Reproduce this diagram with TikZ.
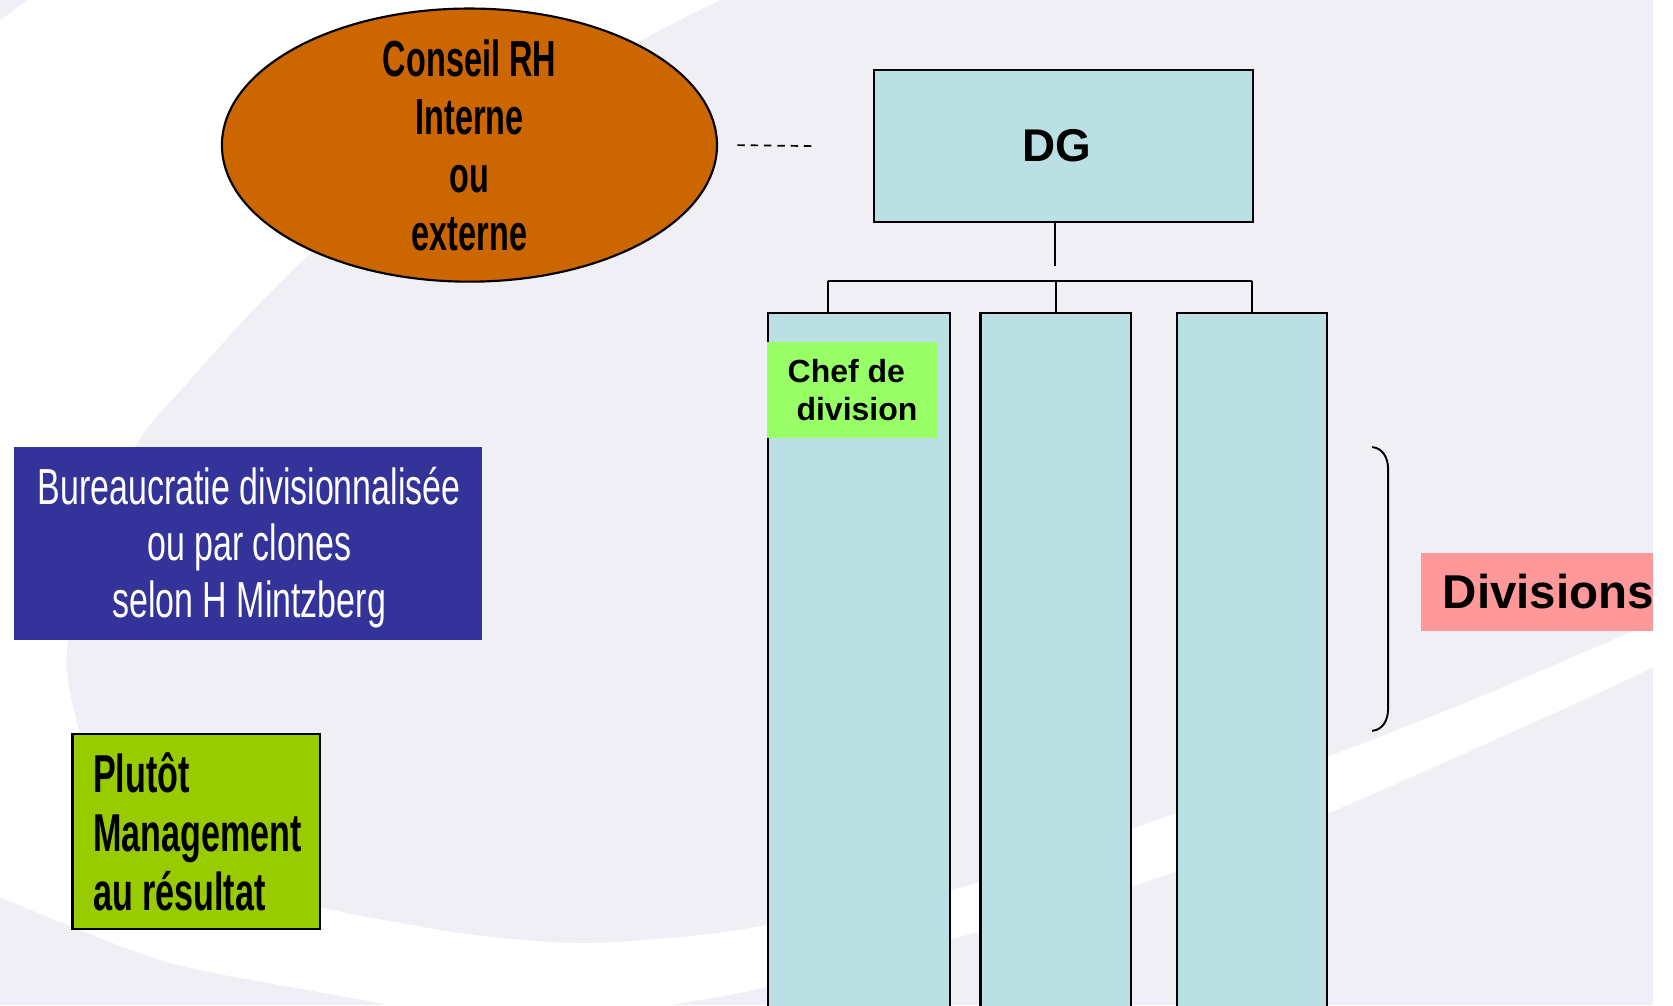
\documentclass[tikz,border=0pt]{standalone}
\usepackage{fontspec}
\setmainfont{Liberation Sans}
\newfontfamily\condB[FakeStretch=0.64]{Liberation Sans}
\newfontfamily\condR[FakeStretch=0.67]{Liberation Sans}
\usetikzlibrary{shapes.geometric}
\definecolor{lav}{RGB}{239,239,245}
\definecolor{tealc}{RGB}{186,224,227}
\definecolor{orangec}{RGB}{204,102,0}
\definecolor{navyc}{RGB}{51,51,153}
\definecolor{limec}{RGB}{153,204,0}
\definecolor{chefc}{RGB}{153,255,102}
\definecolor{pinkc}{RGB}{255,153,153}
\begin{document}
\begin{tikzpicture}[x=1pt,y=-1pt,
  boxline/.style={draw=black, line width=2pt},
  tealbox/.style={boxline, fill=tealc, inner sep=0pt, anchor=north west},
  plainbox/.style={inner sep=0pt, anchor=north west},
  treeline/.style={draw=black, line width=2pt},
  dashline/.style={draw=black, line width=1.6pt, dash pattern=on 7pt off 5.5pt},
  condbold/.style={font=\condB\bfseries\fontsize{47.5}{54.5}\selectfont, inner sep=0pt, align=center},
  condreg/.style={font=\condR\fontsize{47.5}{53}\selectfont, inner sep=0pt, align=center, text=white},
  arialb/.style 2 args={font=\bfseries\fontsize{#1}{#2}\selectfont, inner sep=0pt}
]
\useasboundingbox (0,0) rectangle (1568,942);
\fill[white] (0,0) rectangle (1568,942);
\begin{scope}
\clip (0,0) rectangle (1549,942);
\fill[lav] (0,0) rectangle (1549,942);
% white swoosh
\fill[white] (0,19) -- (26,0) -- (675,0)
  -- plot[smooth, tension=0.5] coordinates {(675,0) (598,40) (445,138) (292,237) (161,375) (127,419) (92,505) (64,600) (67,656) (94,740) (150,792) (220,826) (299,850) (375,865) (450,877) (544,884) (640,878) (719,867) (900,832) (1080,770) (1245,709) (1380,656) (1534,590) (1560,579)}
  -- (1560,620)
  -- plot[smooth, tension=0.5] coordinates {(1560,620) (1484,656) (1245,762) (1061,831) (900,878) (719,925) (640,940) (572,950)}
  -- (364,950)
  -- plot[smooth, tension=0.5] coordinates {(364,950) (364,942) (201,912) (130,893) (0,841)}
  -- cycle;

% ellipse
\node[ellipse, draw=black, line width=2pt, fill=orangec, minimum width=464pt, minimum height=256pt, inner sep=0pt] (conseil) at (440,136) {};
\node[condbold] (conseiltxt) at (440,136.5) {Conseil RH\\Interne\\ou\\externe};

% DG
\node[tealbox, arialb={43}{50}, minimum width=355pt, minimum height=142pt] (dg) at (818,65) {DG\kern12pt};

% dashed link
\draw[dashline] ([xshift=18pt]conseil.east) -- ([xshift=-53pt]dg.west);

% columns
\node[tealbox, minimum width=170pt, minimum height=700pt] (col1) at (719,292) {};
\node[tealbox, minimum width=141pt, minimum height=700pt] (col2) at (918,292) {};
\node[tealbox, minimum width=141pt, minimum height=700pt] (col3) at (1102,292) {};

% tree
\coordinate (stemend) at (989,249);
\coordinate (barL) at (776,263);
\coordinate (barR) at (col3.north |- barL);
\draw[treeline] (dg.south -| stemend) -- (stemend);
\draw[treeline] (barL) -- (barR);
\draw[treeline] (barL) -- (barL |- col1.north);
\draw[treeline] (col2.north |- barL) -- (col2.north);
\draw[treeline] (barR) -- (col3.north);

% chef de division
\node[plainbox, fill=chefc, minimum width=159pt, minimum height=90pt] (chef) at (719,320) {};
\node[arialb={30}{35}, align=left, anchor=west] (cheftxt) at (738,365.5) {Chef de\\\hspace*{8.3pt}division};

% brace
\draw[line width=1.8pt] (1286,419) .. controls (1296,420) and (1301,429) .. (1301,440) -- (1301,664) .. controls (1301,675) and (1296,684) .. (1286,685);

% divisions
\node[arialb={44.5}{52}, fill=pinkc, minimum height=73pt, inner xsep=20pt, inner ysep=0pt, anchor=west] (divisions) at (1332,554.5) {Divisions};

% bureaucratie
\node[plainbox, fill=navyc, minimum width=439pt, minimum height=181pt] (bureau) at (13,419) {};
\node[condreg] (bureautxt) at (233.5,513) {Bureaucratie divisionnalisée\\ou par clones\\selon H Mintzberg};

% plutot
\node[plainbox, boxline, fill=limec, minimum width=232pt, minimum height=183pt] (plutot) at (67,687) {};
\node[font=\condB\bfseries\fontsize{50}{55}\selectfont, inner sep=0pt, align=left, anchor=west] (plutottxt) at (87,779.5) {Plutôt\\Management\\au résultat};
\end{scope}
\end{tikzpicture}
\end{document}
